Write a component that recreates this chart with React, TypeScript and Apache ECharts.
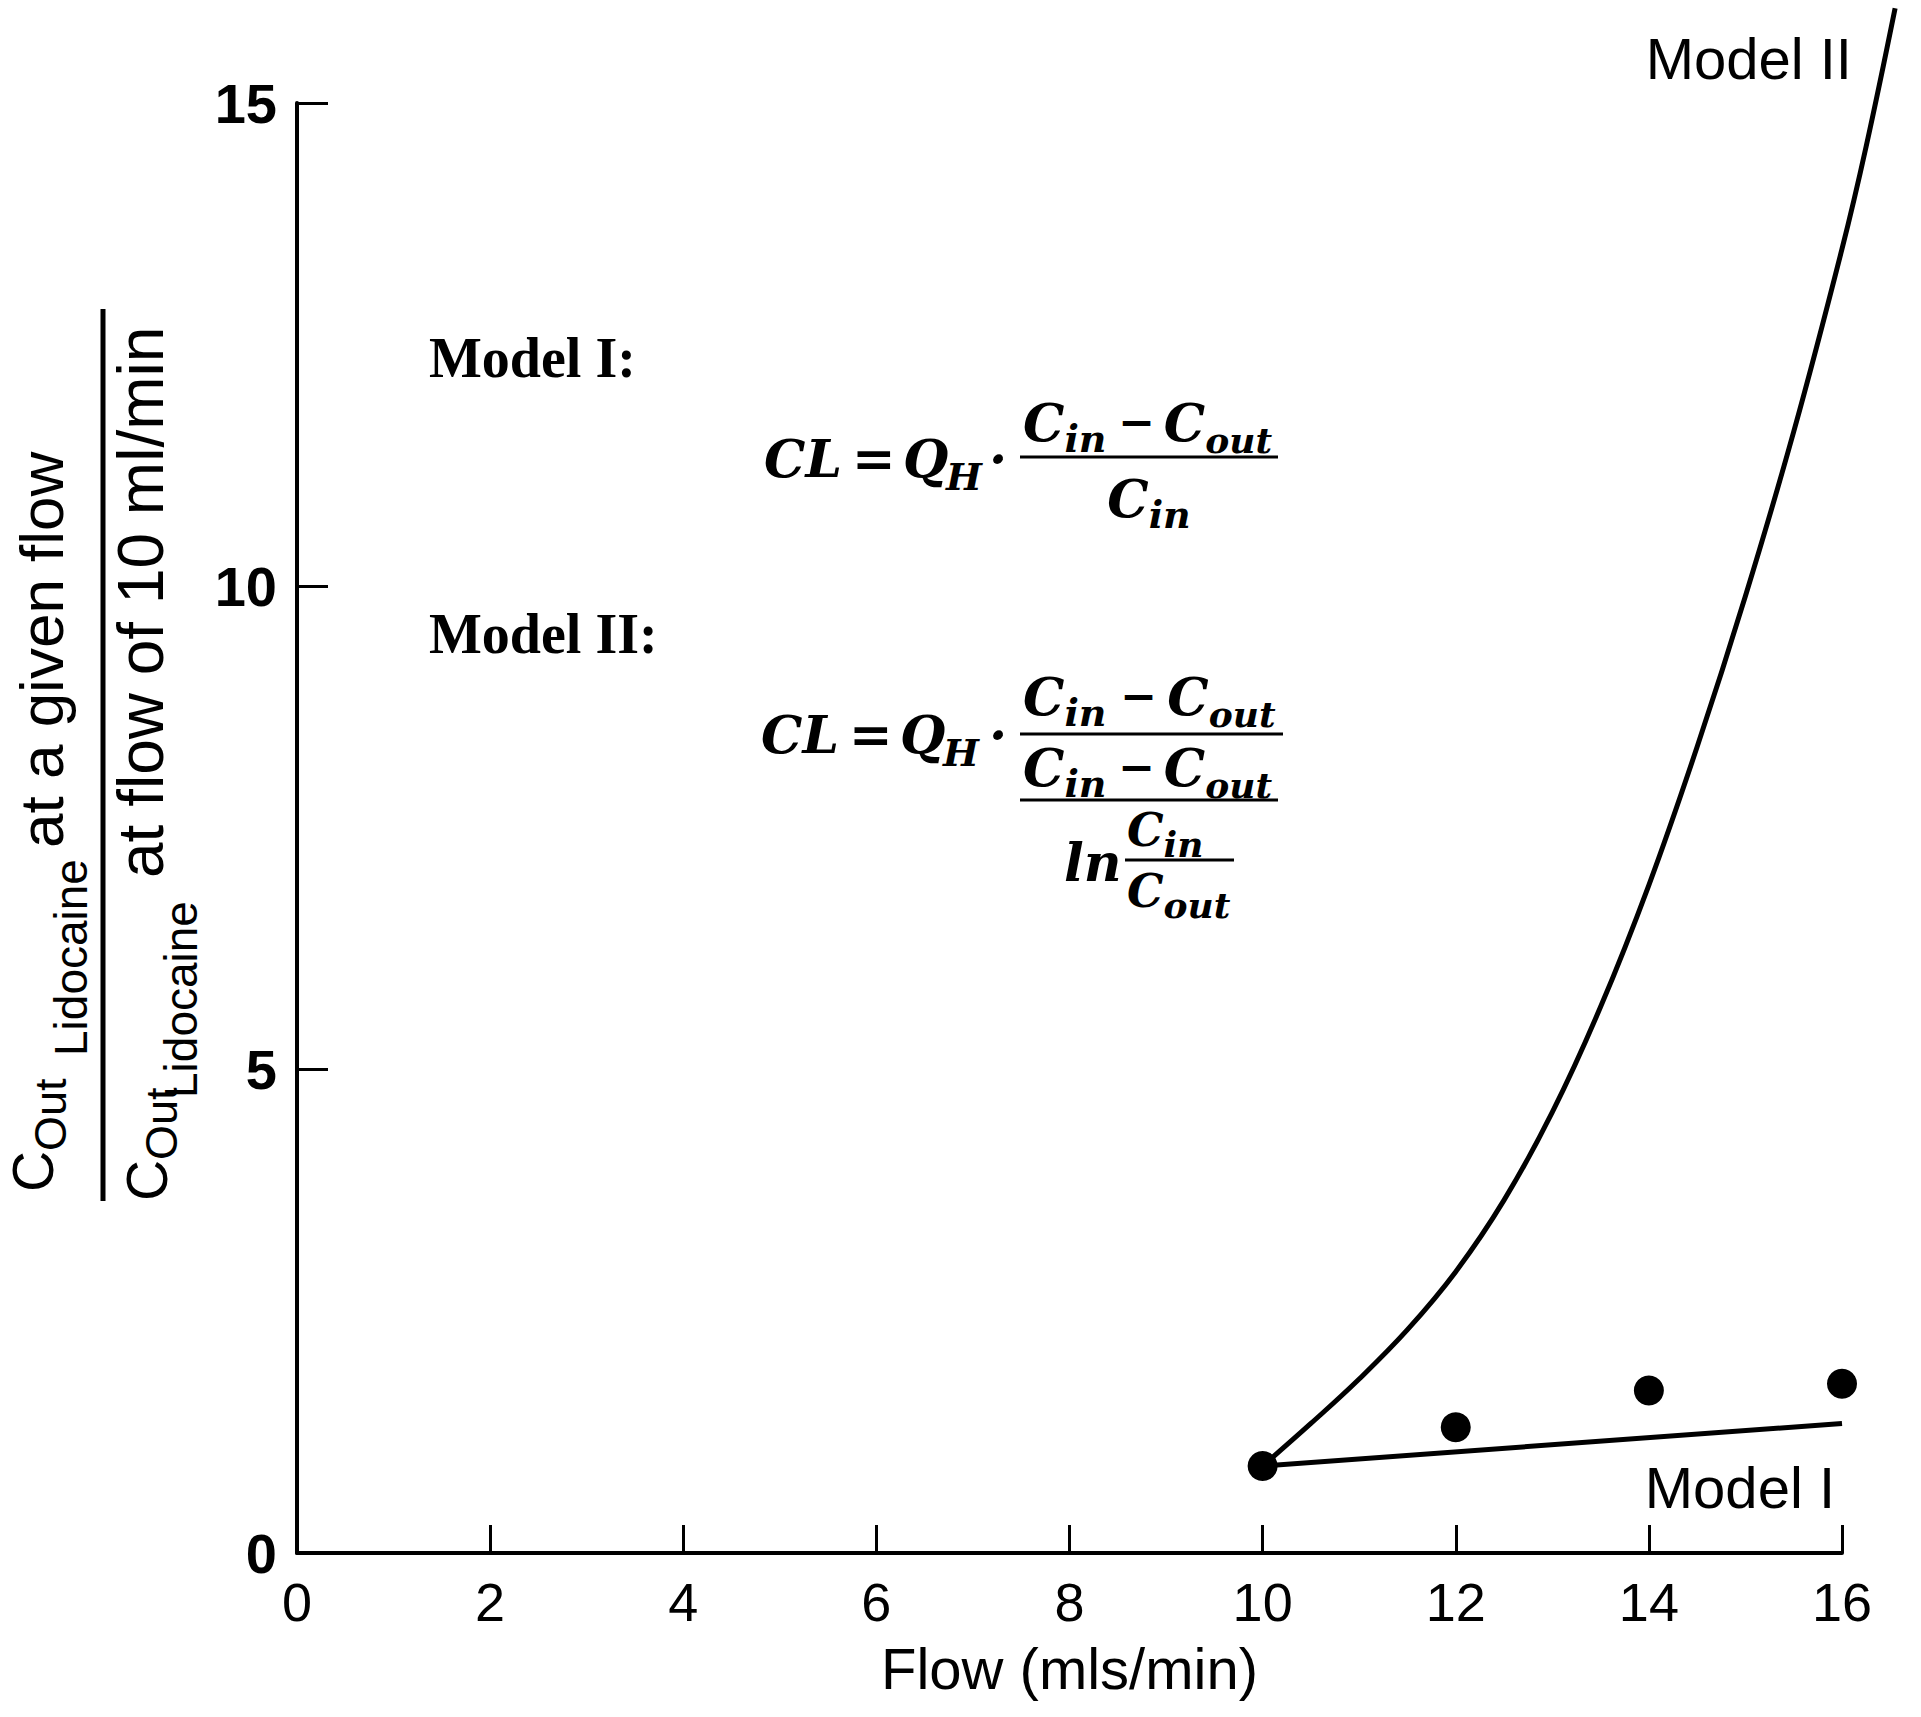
import React, { useEffect, useRef } from "react";
import * as echarts from "echarts";

// ---- data ----
const xTickValues = [0, 2, 4, 6, 8, 10, 12, 14, 16];
const yTickValues = [0, 5, 10, 15];
const modelIIFlow = [10, 10.5, 11, 11.5, 12, 12.5, 13, 13.5, 14, 14.5, 15, 15.5, 16, 16.25, 16.55];
const modelIIRatio = [0.9, 1.34, 1.8, 2.31, 2.91, 3.65, 4.56, 5.65, 6.91, 8.34, 9.9, 11.6, 13.49, 14.55, 15.98];
const modelIFlow = [10, 16];
const modelIRatio = [0.9, 1.34];
const measuredFlow = [10, 12, 14, 16];
const measuredRatio = [0.9, 1.3, 1.68, 1.75];

const xAxisTitle = "Flow (mls/min)";
const modelILabel = "Model I";
const modelIILabel = "Model II";

const W = 1921;
const H = 1717;
const SANS = "'Liberation Sans', Arial, sans-serif";
const SERIF = "'Liberation Serif', 'Times New Roman', serif";
const MATH = "'DejaVu Serif', serif";
const C_MID = 0.345; // central baseline offset (em)

// plot frame (pixels)
const G_LEFT = 297;
const G_RIGHT = 79;
const G_TOP = 103;
const G_BOTTOM = 164;
// extended hidden frame so the Model II curve can run past the axis ends
const EXT_X_MAX = 16.6;
const EXT_Y_MAX = 16;

let measureCtx: CanvasRenderingContext2D | null = null;
function textWidth(t: string, font: string) {
  if (!measureCtx) measureCtx = document.createElement("canvas").getContext("2d");
  measureCtx!.font = font;
  return measureCtx!.measureText(t).width;
}

function mathFont(size: number) {
  return `italic bold ${size}px ${MATH}`;
}

function txt(text: string, x: number, baseline: number, size: number, font: string, align = "left") {
  return {
    type: "text",
    x,
    y: baseline - C_MID * size,
    silent: true,
    style: {
      text,
      font,
      fill: "#000",
      align,
      verticalAlign: "middle",
      textAlign: align,
      textVerticalAlign: "middle",
    },
  };
}

type Part = { t: string; s: number; dy?: number; gap?: number };
function partsWidth(parts: Part[]) {
  let w = 0;
  parts.forEach((p) => {
    w += (p.gap || 0) + textWidth(p.t, mathFont(p.s));
  });
  return w;
}
function run(x0: number, baseline: number, parts: Part[]) {
  const els: any[] = [];
  let x = x0;
  parts.forEach((p) => {
    x += p.gap || 0;
    els.push(txt(p.t, x, baseline + (p.dy || 0), p.s, mathFont(p.s)));
    x += textWidth(p.t, mathFont(p.s));
  });
  return els;
}
function runCentered(cx: number, baseline: number, parts: Part[]) {
  return run(cx - partsWidth(parts) / 2, baseline, parts);
}
function bar(x1: number, x2: number, y: number, w = 3) {
  return { type: "line", silent: true, shape: { x1, y1: y, x2, y2: y }, style: { stroke: "#000", lineWidth: w } };
}

// "C_in − C_out" fitted to a given width
function cinMinusCout(target: number): Part[] {
  const base: Part[] = [
    { t: "C", s: 52 },
    { t: "in", s: 38, dy: 12 },
    { t: "\u2212", s: 44, dy: -3 },
    { t: "C", s: 52 },
    { t: "out", s: 36, dy: 12 },
  ];
  const w = partsWidth(base);
  const gap = Math.max(4, (target - w) / 2);
  base[2].gap = gap;
  base[3].gap = gap * 0.75;
  return base;
}

function rot(text: string, baselineX: number, startY: number, size: number) {
  return {
    type: "text",
    x: baselineX - C_MID * size,
    y: startY,
    rotation: Math.PI / 2,
    silent: true,
    style: {
      text,
      font: `${size}px ${SANS}`,
      fill: "#000",
      align: "left",
      verticalAlign: "middle",
      textAlign: "left",
      textVerticalAlign: "middle",
    },
  };
}

function buildGraphics() {
  const g: any[] = [];
  // y-axis title (fraction, rotated)
  g.push(rot("C", 53, 1192, 57));
  g.push(rot("Out", 66, 1151, 45));
  g.push(rot("Lidocaine", 87, 1056, 46));
  g.push(rot("at a given flow", 63, 848, 62));
  g.push({ type: "line", silent: true, shape: { x1: 103, y1: 309, x2: 103, y2: 1201 }, style: { stroke: "#000", lineWidth: 5 } });
  g.push(rot("C", 167, 1201, 57));
  g.push(rot("Out", 177, 1160, 45));
  g.push(rot("Lidocaine", 197, 1098, 46));
  g.push(rot("at flow of 10 ml/min", 163, 878, 64));

  // Model labels next to curves
  g.push(txt(modelIILabel, 1852, 79, 58, `58px ${SANS}`, "right"));
  g.push(txt(modelILabel, 1835, 1508, 58, `58px ${SANS}`, "right"));

  // Model I formula
  g.push(txt("Model I:", 429, 377, 56, `bold 56px ${SERIF}`));
  g.push(txt("CL", 764, 476, 52, mathFont(52)));
  g.push(txt("=", 852, 476, 52, mathFont(52)));
  g.push(txt("Q", 903, 476, 52, mathFont(52)));
  g.push(txt("H", 946, 490, 38, mathFont(38)));
  g.push(txt("\u00b7", 989, 476, 52, mathFont(52)));
  g.push(...run(1023, 440, cinMinusCout(252)));
  g.push(bar(1020, 1278, 457));
  g.push(...runCentered(1149, 516, [{ t: "C", s: 52 }, { t: "in", s: 38, dy: 12 }]));

  // Model II formula
  g.push(txt("Model II:", 429, 653, 56, `bold 56px ${SERIF}`));
  g.push(txt("CL", 761, 752, 52, mathFont(52)));
  g.push(txt("=", 849, 752, 52, mathFont(52)));
  g.push(txt("Q", 900, 752, 52, mathFont(52)));
  g.push(txt("H", 943, 766, 38, mathFont(38)));
  g.push(txt("\u00b7", 989, 752, 52, mathFont(52)));
  g.push(...run(1023, 714, cinMinusCout(256)));
  g.push(bar(1020, 1283, 734));
  g.push(...run(1023, 785, cinMinusCout(252)));
  g.push(bar(1020, 1278, 800));
  g.push(txt("ln", 1064, 880, 52, mathFont(52)));
  g.push(...run(1127, 846, [{ t: "C", s: 46 }, { t: "in", s: 36, dy: 10 }]));
  g.push(bar(1125, 1234, 860));
  g.push(...run(1127, 907, [{ t: "C", s: 46 }, { t: "out", s: 36, dy: 10 }]));
  return g;
}

export default function App() {
  const ref = useRef<HTMLDivElement>(null);
  useEffect(() => {
    if (!ref.current) return;
    const chart = echarts.init(ref.current, null, { renderer: "svg" });
    const axisColor = "#000";
    const plotW = W - G_LEFT - G_RIGHT;
    const plotH = H - G_TOP - G_BOTTOM;
    const pxPerX = plotW / xTickValues[xTickValues.length - 1];
    const pxPerY = plotH / yTickValues[yTickValues.length - 1];
    const extRight = W - G_LEFT - EXT_X_MAX * pxPerX;
    const extTop = H - G_BOTTOM - EXT_Y_MAX * pxPerY;
    chart.setOption({
      animation: false,
      backgroundColor: "#fff",
      grid: [
        { left: G_LEFT, right: G_RIGHT, top: G_TOP, bottom: G_BOTTOM, containLabel: false },
        { left: G_LEFT, right: extRight, top: extTop, bottom: G_BOTTOM, containLabel: false },
      ],
      xAxis: [
        {
          type: "value",
          gridIndex: 0,
          min: xTickValues[0],
          max: xTickValues[xTickValues.length - 1],
          interval: 2,
          splitLine: { show: false },
          axisLine: { show: true, onZero: false, lineStyle: { color: axisColor, width: 4 } },
          axisTick: { show: true, inside: true, length: 28, lineStyle: { color: axisColor, width: 3 } },
          axisLabel: {
            color: "#000",
            fontSize: 54,
            fontFamily: SANS,
            margin: 22,
            showMinLabel: true,
            showMaxLabel: true,
          },
          name: xAxisTitle,
          nameLocation: "middle",
          nameGap: 86,
          nameTextStyle: { color: "#000", fontSize: 58, fontFamily: SANS },
        },
        { type: "value", gridIndex: 1, min: 0, max: EXT_X_MAX, show: false, splitLine: { show: false } },
      ],
      yAxis: [
        {
          type: "value",
          gridIndex: 0,
          min: yTickValues[0],
          max: yTickValues[yTickValues.length - 1],
          interval: 5,
          splitLine: { show: false },
          axisLine: { show: true, onZero: false, lineStyle: { color: axisColor, width: 4 } },
          axisTick: { show: true, inside: true, length: 31, lineStyle: { color: axisColor, width: 3 } },
          axisLabel: { color: "#000", fontSize: 56, fontWeight: "bold", fontFamily: SANS, margin: 20 },
        },
        { type: "value", gridIndex: 1, min: 0, max: EXT_Y_MAX, show: false, splitLine: { show: false } },
      ],
      series: [
        {
          name: "Model II",
          type: "line",
          xAxisIndex: 1,
          yAxisIndex: 1,
          data: modelIIFlow.map((f, i) => [f, modelIIRatio[i]]),
          smooth: 0.4,
          clip: false,
          showSymbol: false,
          symbol: "none",
          lineStyle: { color: "#000", width: 5 },
          z: 3,
        },
        {
          name: "Model I",
          type: "line",
          data: modelIFlow.map((f, i) => [f, modelIRatio[i]]),
          clip: false,
          showSymbol: false,
          symbol: "none",
          lineStyle: { color: "#000", width: 5 },
          z: 3,
        },
        {
          name: "Measured",
          type: "scatter",
          data: measuredFlow.map((f, i) => [f, measuredRatio[i]]),
          symbol: "circle",
          symbolSize: 30,
          itemStyle: { color: "#000", opacity: 1 },
          clip: false,
          z: 4,
        },
      ],
      graphic: buildGraphics(),
    });
    return () => chart.dispose();
  }, []);
  return <div ref={ref} style={{ position: "absolute", left: 0, top: 0, width: W, height: H }} />;
}
